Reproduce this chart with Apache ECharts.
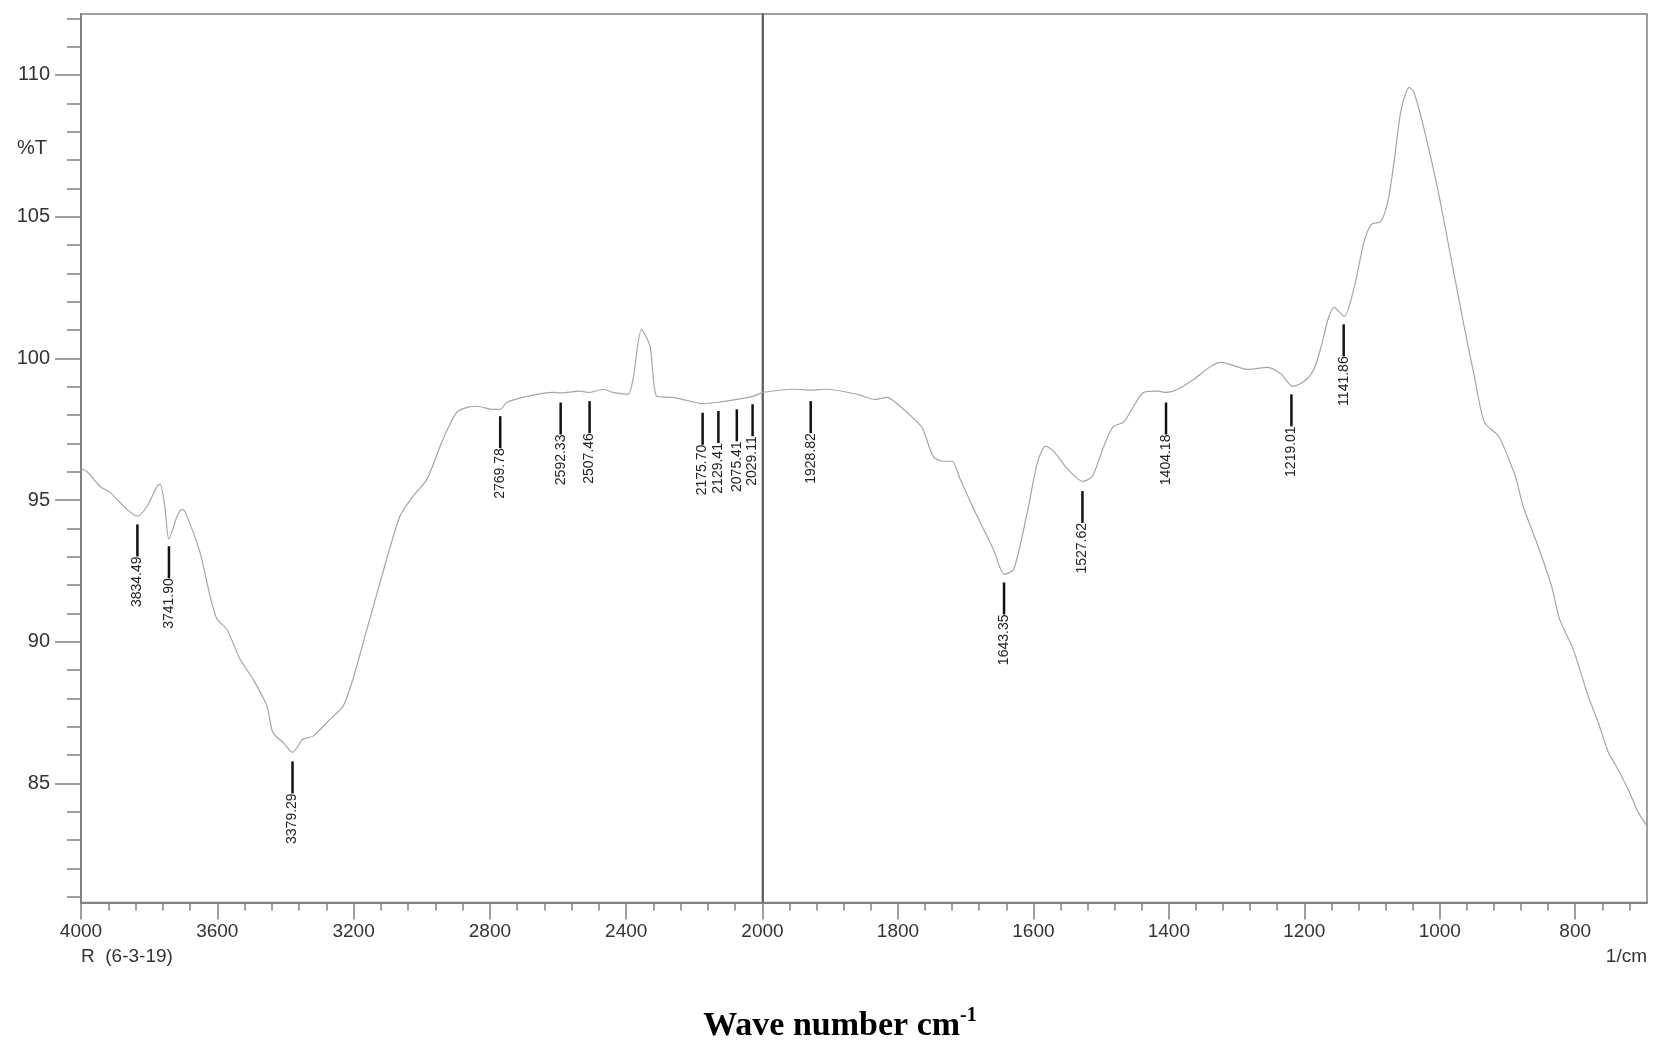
<!DOCTYPE html>
<html>
<head>
<meta charset="utf-8">
<title>FTIR spectrum</title>
<script src="https://cdn.jsdelivr.net/npm/echarts@6/dist/echarts.min.js"></script>
<style>
  html, body { margin: 0; padding: 0; background: #fff; }
  #chart { width: 1654px; height: 1042px; }
</style>
</head>
<body>
<div id="chart"></div>
<script>
// spectrum (wave number cm-1, %T)
const wavenumbers = [
  4000, 3994, 3944, 3915, 3865, 3834, 3806, 3777, 3768, 3754, 3742, 3718, 3704, 3695, 3651, 3621,
  3601, 3572, 3533, 3495, 3454, 3437, 3407, 3379, 3349, 3319, 3269, 3231, 3202, 3161, 3114, 3064,
  3026, 2985, 2938, 2897, 2867, 2838, 2791, 2770, 2750, 2691, 2615, 2592, 2536, 2507, 2468, 2439,
  2395, 2380, 2355, 2330, 2310, 2263, 2184, 2176, 2129, 2076, 2029, 2000,
  1955, 1927, 1905, 1860, 1834, 1816, 1797, 1771, 1763, 1748, 1734, 1720, 1708, 1683, 1659, 1643,
  1629, 1609, 1594, 1582, 1570, 1549, 1527, 1513, 1496, 1482, 1467, 1452, 1437, 1416, 1404, 1387,
  1363, 1338, 1323, 1283, 1254, 1234, 1217, 1200, 1186, 1175, 1165, 1156, 1141, 1126, 1112, 1101,
  1087, 1076, 1067, 1057, 1045, 1038, 1023, 1002, 983, 964, 949, 934, 913, 898, 887, 877,
  855, 835, 823, 803, 781, 766, 751, 741, 722, 707, 694
];
const transmittance = [
  96.03, 96.08, 95.48, 95.27, 94.67, 94.43, 94.78, 95.48, 95.56, 94.78, 93.62, 94.43, 94.67, 94.6, 93.16, 91.6,
  90.8, 90.44, 89.38, 88.68, 87.72, 86.8, 86.45, 86.1, 86.56, 86.67, 87.27, 87.72, 88.68, 90.44, 92.45, 94.43,
  95.13, 95.73, 97.14, 98.1, 98.27, 98.31, 98.2, 98.2, 98.45, 98.66, 98.8, 98.78, 98.84, 98.8, 98.91, 98.8,
  98.73, 99.26, 101.02, 100.42, 98.66, 98.62, 98.41, 98.4, 98.45, 98.55, 98.66, 98.8,
  98.91, 98.88, 98.91, 98.73, 98.55, 98.62, 98.31, 97.74, 97.5, 96.54, 96.37, 96.37, 95.73, 94.43, 93.26, 92.38,
  92.56, 94.57, 96.33, 96.9, 96.72, 96.08, 95.66, 95.84, 96.9, 97.6, 97.74, 98.31, 98.8, 98.84, 98.8, 98.91,
  99.26, 99.72, 99.86, 99.61, 99.68, 99.44, 99.01, 99.19, 99.61, 100.42, 101.38, 101.8, 101.48, 102.54, 104.09, 104.73,
  104.83, 105.61, 107.02, 108.78, 109.56, 109.38, 108.08, 105.86, 103.49, 101.13, 99.37, 97.74, 97.25, 96.44, 95.73, 94.79,
  93.38, 91.97, 90.79, 89.74, 88.09, 87.15, 86.09, 85.68, 84.8, 83.98, 83.5
];

// picked peaks: position, %T where the marker starts, printed label
const peakWn = [3834.49, 3741.9, 3379.29, 2769.78, 2592.33, 2507.46, 2175.7, 2129.41, 2075.41, 2029.11,
  1928.82, 1643.35, 1527.62, 1404.18, 1219.01, 1141.86];
const peakTop = [94.14, 93.37, 85.78, 97.96, 98.44, 98.49, 98.08, 98.14, 98.2, 98.38,
  98.49, 92.09, 95.32, 98.44, 98.73, 101.2];
const peakLabels = ["3834.49", "3741.90", "3379.29", "2769.78", "2592.33", "2507.46", "2175.70", "2129.41",
  "2075.41", "2029.11", "1928.82", "1643.35", "1527.62", "1404.18", "1219.01", "1141.86"];

// axes
const yLabels = [85, 90, 95, 100, 105, 110];
const leftXLabels = [4000, 3600, 3200, 2800, 2400, 2000];
const rightXLabels = [1800, 1600, 1400, 1200, 1000, 800];
const yMin = 80.8, yMax = 112.15;
const rightMin = 694;

function steps(from, to, step) {
  const out = [];
  for (let v = from; v >= to; v -= step) out.push(v);
  return out;
}

const axisGray = "#808080";
const labelFont = { color: "#333", fontSize: 19, fontFamily: "Liberation Sans", formatter: (v) => String(v) };

const chart = echarts.init(document.getElementById("chart"), null, { renderer: "canvas" });

const pts = wavenumbers.map((w, i) => [w, transmittance[i]]);
const leftPts = pts.filter((p) => p[0] >= 2000);
const rightPts = pts.filter((p) => p[0] <= 2000);

const peaks = peakWn.map((w, i) => ({ value: [w, peakTop[i]], text: peakLabels[i] }));
const leftPeaks = peaks.filter((p) => p.value[0] > 2000);
const rightPeaks = peaks.filter((p) => p.value[0] <= 2000);

function peakRenderer(list) {
  return function (params, api) {
    const p = api.coord([api.value(0), api.value(1)]);
    const len = 32;
    return {
      type: "group",
      children: [
        {
          type: "line",
          shape: { x1: p[0], y1: p[1], x2: p[0], y2: p[1] + len },
          style: { stroke: "#111", lineWidth: 2.5 }
        },
        {
          type: "text",
          x: p[0],
          y: p[1] + len,
          rotation: Math.PI / 2,
          style: {
            text: list[params.dataIndex].text,
            align: "right",
            verticalAlign: "middle",
            fill: "#222",
            fontSize: 14,
            fontFamily: "Liberation Sans"
          }
        }
      ]
    };
  };
}

function xAxisPair(gridIndex, min, max, labels, minor, major) {
  return [
    {
      type: "value", gridIndex, min, max, inverse: true, position: "bottom",
      axisLine: { show: true, lineStyle: { color: axisGray, width: 2 } },
      axisTick: { show: true, customValues: minor, length: 8, lineStyle: { color: axisGray, width: 1.5 } },
      axisLabel: { show: true, customValues: labels, margin: 20, ...labelFont },
      splitLine: { show: false }
    },
    {
      type: "value", gridIndex, min, max, inverse: true, position: "bottom",
      axisLine: { show: false },
      axisTick: { show: true, customValues: major, length: 17, lineStyle: { color: axisGray, width: 1.5 } },
      axisLabel: { show: false },
      splitLine: { show: false }
    }
  ];
}

chart.setOption({
  animation: false,
  backgroundColor: "#fff",
  grid: [
    { left: 81, top: 14, width: 681.5, height: 888.5, containLabel: false, outerBoundsMode: "none",
      show: true, borderColor: axisGray, borderWidth: 1.5 },
    { left: 762.5, top: 14, width: 884.5, height: 888.5, containLabel: false, outerBoundsMode: "none",
      show: true, borderColor: axisGray, borderWidth: 1.5 }
  ],
  xAxis: [
    ...xAxisPair(0, 2000, 4000, leftXLabels, steps(4000, 2000, 80), leftXLabels),
    ...xAxisPair(1, rightMin, 2000, rightXLabels, steps(2000, 720, 40), [2000].concat(rightXLabels))
  ],
  yAxis: [
    {
      type: "value", gridIndex: 0, min: yMin, max: yMax, position: "left",
      axisLine: { show: true, lineStyle: { color: axisGray, width: 2 } },
      axisTick: { show: true, customValues: steps(112, 81, 1), length: 14, lineStyle: { color: axisGray, width: 1.5 } },
      axisLabel: { show: true, customValues: yLabels, margin: 31, ...labelFont, fontSize: 20 },
      splitLine: { show: false }
    },
    {
      type: "value", gridIndex: 0, min: yMin, max: yMax, position: "left",
      axisLine: { show: false },
      axisTick: { show: true, customValues: yLabels, length: 26, lineStyle: { color: axisGray, width: 1.5 } },
      axisLabel: { show: false },
      splitLine: { show: false }
    },
    {
      type: "value", gridIndex: 1, min: yMin, max: yMax, position: "left",
      axisLine: { show: true, lineStyle: { color: "#505050", width: 1.5 } },
      axisTick: { show: false },
      axisLabel: { show: false },
      splitLine: { show: false }
    }
  ],
  series: [
    {
      type: "line", xAxisIndex: 0, yAxisIndex: 0, data: leftPts,
      showSymbol: false, smooth: 0.25,
      lineStyle: { color: "#a6a6a6", width: 1.2 }
    },
    {
      type: "line", xAxisIndex: 2, yAxisIndex: 2, data: rightPts,
      showSymbol: false, smooth: 0.25,
      lineStyle: { color: "#a6a6a6", width: 1.2 }
    },
    {
      type: "custom", xAxisIndex: 0, yAxisIndex: 0, renderItem: peakRenderer(leftPeaks),
      data: leftPeaks.map((p) => p.value)
    },
    {
      type: "custom", xAxisIndex: 2, yAxisIndex: 2, renderItem: peakRenderer(rightPeaks),
      data: rightPeaks.map((p) => p.value)
    }
  ],
  graphic: [
    { type: "text", x: 17, y: 148,
      style: { text: "%T", fill: "#333", fontSize: 20, fontFamily: "Liberation Sans", verticalAlign: "middle" } },
    { type: "text", x: 81, y: 957,
      style: { text: "R  (6-3-19)", fill: "#333", fontSize: 19, fontFamily: "Liberation Sans", verticalAlign: "middle" } },
    { type: "text", x: 1647, y: 957,
      style: { text: "1/cm", fill: "#333", fontSize: 19, fontFamily: "Liberation Sans", align: "right", verticalAlign: "middle" } },
    { type: "text", x: 840, y: 1026,
      style: {
        text: "{a|Wave number cm}{b|-1}",
        align: "center", verticalAlign: "middle",
        rich: {
          a: { fontSize: 34, fontWeight: "bold", fontFamily: "Liberation Serif", fill: "#000", lineHeight: 40 },
          b: { fontSize: 20, fontWeight: "bold", fontFamily: "Liberation Serif", fill: "#000", lineHeight: 22, verticalAlign: "top" }
        }
      } }
  ]
});
</script>
</body>
</html>
